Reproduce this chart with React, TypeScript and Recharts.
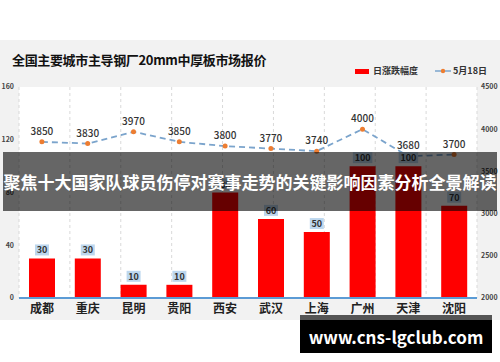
import React from "react";
import {
  ComposedChart,
  Bar,
  Line,
  XAxis,
  YAxis,
  CartesianGrid,
  LabelList,
} from "recharts";

const cities = ["成都", "重庆", "昆明", "贵阳", "西安", "武汉", "上海", "广州", "天津", "沈阳"];
const dailyChange = [30, 30, 10, 10, 80, 60, 50, 100, 100, 70];
const priceMay18 = [3850, 3830, 3970, 3850, 3800, 3770, 3740, 4000, 3680, 3700];
const leftTicks = [0, 40, 80, 120, 160];
const rightTicks = [2000, 2500, 3000, 3500, 4000, 4500];

const FONT = "'Noto Sans CJK SC', 'Noto Sans', sans-serif";

const data = cities.map((city, i) => ({
  city,
  change: dailyChange[i],
  price: priceMay18[i],
}));

// boundaries between categories, for the dashed vertical grid
const gridTicks = cities.slice(1).map((_, i) => i + 1);

function BarLabel(props: any) {
  const { x, y, width, value } = props;
  const w = String(value).length * 5.5 + 3;
  const cx = x + width / 2;
  return (
    <g>
      <rect x={cx - w / 2} y={y - 14} width={w} height={11} fill="#bdd7ee" />
      <text
        x={cx}
        y={y - 5}
        textAnchor="middle"
        fontSize={9}
        fontWeight={700}
        fill="#333"
        fontFamily={FONT}
      >
        {value}
      </text>
    </g>
  );
}

export default function App() {
  return (
    <div
      style={{
        position: "absolute",
        left: 0,
        top: 0,
        width: 500,
        height: 362,
        background: "#fff",
        fontFamily: FONT,
        overflow: "hidden",
      }}
    >
      <div style={{ position: "absolute", left: 0, top: 40, width: 500, height: 280, background: "#f2f2f2" }} />
      <div
        style={{
          position: "absolute",
          left: 12,
          top: 50,
          fontSize: 13,
          letterSpacing: -0.35,
          fontWeight: 700,
          color: "#111",
          lineHeight: "20px",
          whiteSpace: "nowrap",
        }}
      >
        全国主要城市主导钢厂20mm中厚板市场报价
      </div>

      {/* legend */}
      <div
        style={{
          position: "absolute",
          left: 355,
          top: 64,
          display: "flex",
          alignItems: "center",
          fontSize: 9,
          fontWeight: 700,
          color: "#333",
          lineHeight: "14px",
          whiteSpace: "nowrap",
        }}
      >
        <span style={{ display: "inline-block", width: 14, height: 5, background: "#ff0000", marginRight: 4 }} />
        <span>日涨跌幅度</span>
        <svg width={16} height={8} style={{ marginLeft: 17, marginRight: 2 }}>
          <line x1={0} y1={4} x2={16} y2={4} stroke="#7ba4cc" strokeWidth={1.5} />
          <circle cx={8} cy={4} r={2.2} fill="#ed7d31" />
        </svg>
        <span>5月18日</span>
      </div>

      <div style={{ position: "absolute", left: 0, top: 0 }}>
        <ComposedChart
          width={500}
          height={362}
          data={data}
          margin={{ top: 87, right: 0, left: 0, bottom: 34 }}
        >
          <CartesianGrid
            xAxisId="grid"
            yAxisId="left"
            horizontal={false}
            vertical
            stroke="#d9d9d9"
            strokeDasharray="3 3"
            fill="#ffffff"
            fillOpacity={1}
          />
          <XAxis
            xAxisId="grid"
            type="number"
            domain={[0, cities.length]}
            ticks={gridTicks}
            hide
          />
          <XAxis
            dataKey="city"
            height={30}
            axisLine={{ stroke: "#5b9bd5", strokeWidth: 2 }}
            tickLine={false}
            tickSize={5}
            tickMargin={1}
            interval={0}
            tick={{ fontSize: 12, fontWeight: 700, fill: "#222", fontFamily: FONT }}
          />
          <YAxis
            yAxisId="left"
            width={19}
            domain={[0, 160]}
            ticks={leftTicks}
            interval={0}
            axisLine={false}
            tickLine={false}
            tickSize={3}
            tickMargin={2}
            tick={{ fontSize: 7, fontWeight: 700, fill: "#444", fontFamily: FONT }}
          />
          <YAxis
            yAxisId="right"
            orientation="right"
            width={23}
            domain={[2000, 4500]}
            ticks={rightTicks}
            interval={0}
            axisLine={false}
            tickLine={false}
            tickSize={2}
            tickMargin={2}
            tick={{ fontSize: 7, fontWeight: 700, fill: "#444", fontFamily: FONT, textAnchor: "start" }}
          />
          <Bar yAxisId="left" dataKey="change" fill="#ff0000" barSize={26} isAnimationActive={false}>
            <LabelList dataKey="change" content={<BarLabel />} />
          </Bar>
          <Line
            yAxisId="right"
            dataKey="price"
            stroke="#7ba4cc"
            strokeWidth={1.8}
            strokeDasharray="6 4"
            dot={{ r: 2.5, fill: "#ed7d31", stroke: "none" }}
            activeDot={false}
            isAnimationActive={false}
          >
            <LabelList
              dataKey="price"
              position="top"
              offset={7}
              fontSize={10}
              fontWeight={500}
              fill="#333"
              fontFamily={FONT}
            />
          </Line>
        </ComposedChart>
      </div>

      {/* overlay banner */}
      <div
        style={{
          position: "absolute",
          left: 3,
          top: 152,
          width: 494,
          height: 59,
          background: "rgba(0,0,0,0.6)",
          color: "#fff",
          fontSize: 17,
          fontWeight: 700,
          lineHeight: "59px",
          textAlign: "center",
          whiteSpace: "nowrap",
        }}
      >
        聚焦十大国家队球员伤停对赛事走势的关键影响因素分析全景解读
      </div>

      {/* site watermark */}
      <div
        style={{
          position: "absolute",
          left: 300,
          top: 315,
          width: 192,
          height: 38,
          boxSizing: "border-box",
          borderTop: "5px solid #555",
          background: "#000",
          color: "#fff",
          fontSize: 17,
          fontWeight: 700,
          lineHeight: "33px",
          textAlign: "center",
          whiteSpace: "nowrap",
        }}
      >
        www.cns-lgclub.com
      </div>
    </div>
  );
}
